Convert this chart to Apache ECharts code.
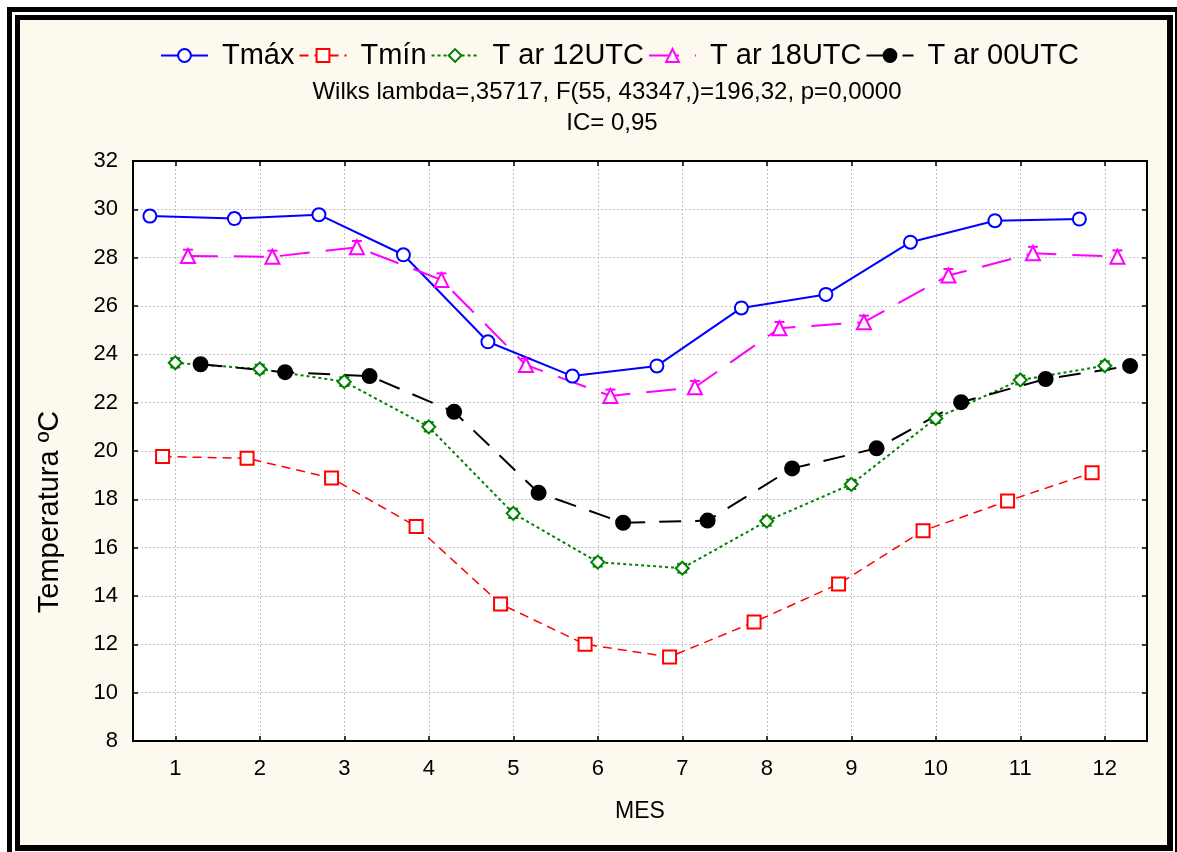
<!DOCTYPE html>
<html>
<head>
<meta charset="utf-8">
<script src="https://cdn.jsdelivr.net/npm/echarts@6/dist/echarts.min.js"></script>
<style>
  html, body { margin: 0; padding: 0; background: #ffffff; overflow: hidden; }
  #outer { position: absolute; left: 7px; top: 7px; width: 1170px; height: 860px; box-sizing: border-box;
           border-left: 5px solid #000; border-top: 5px solid #000; border-right: 2px solid #000; }
  #inner { position: absolute; left: 15px; top: 15px; width: 1158px; height: 836px; box-sizing: border-box;
           border-left: 5px solid #000; border-top: 5px solid #000; border-right: 6px solid #000; border-bottom: 6px solid #000;
           background: #FDF9EF; }
  #chart { position: absolute; left: 0; top: 0; width: 1177px; height: 852px; }
</style>
</head>
<body>
<div id="outer"></div>
<div id="inner"></div>
<div id="chart"></div>
<script>
// ---- data ----
const months = [1, 2, 3, 4, 5, 6, 7, 8, 9, 10, 11, 12];
const yTicks = [8, 10, 12, 14, 16, 18, 20, 22, 24, 26, 28, 30, 32];
const seriesNames = ['Tmáx', 'Tmín', 'T ar 12UTC', 'T ar 18UTC', 'T ar 00UTC'];
const tmax = [29.72, 29.62, 29.78, 28.12, 24.52, 23.10, 23.52, 25.92, 26.48, 28.64, 29.53, 29.60];
const tmin = [19.77, 19.70, 18.88, 16.88, 13.67, 12.00, 11.48, 12.92, 14.50, 16.70, 17.93, 19.10];
const t12 = [23.65, 23.39, 22.87, 21.00, 17.42, 15.40, 15.15, 17.10, 18.62, 21.35, 22.94, 23.53];
const t18 = [28.07, 28.04, 28.43, 27.08, 23.56, 22.28, 22.64, 25.08, 25.33, 27.26, 28.18, 28.04];
const t00 = [23.59, 23.26, 23.10, 21.62, 18.27, 17.03, 17.12, 19.28, 20.11, 22.02, 22.98, 23.52];
// half-widths of the 95% confidence intervals
const tmaxErr = [0.20, 0.21, 0.18, 0.20, 0.19, 0.19, 0.20, 0.21, 0.20, 0.19, 0.20, 0.20];
const tminErr = [0.15, 0.15, 0.16, 0.16, 0.16, 0.15, 0.15, 0.16, 0.16, 0.16, 0.16, 0.15];
const t12Err  = [0.19, 0.18, 0.18, 0.19, 0.19, 0.18, 0.18, 0.19, 0.19, 0.19, 0.18, 0.18];
const t18Err  = [0.26, 0.25, 0.26, 0.27, 0.27, 0.26, 0.26, 0.26, 0.27, 0.27, 0.27, 0.26];
const t00Err  = [0.16, 0.16, 0.16, 0.16, 0.17, 0.16, 0.16, 0.16, 0.16, 0.16, 0.16, 0.16];
const subtitle1 = 'Wilks lambda=,35717, F(55, 43347,)=196,32, p=0,0000';
const subtitle2 = 'IC= 0,95';
const yName = 'Temperatura ºC';
const xName = 'MES';

// ---- chart ----
const FONT = '"Liberation Sans", Arial, sans-serif';
const chart = echarts.init(document.getElementById('chart'), null, { renderer: 'canvas' });

const defs = [
  { vals: tmax, errs: tmaxErr, off: -0.30, color: '#0000FF', symbol: 'emptyCircle', size: 13, line: { width: 2, type: 'solid' } },
  { vals: tmin, errs: tminErr, off: -0.15, color: '#FF0000', symbol: 'emptyRect', size: 13, line: { width: 1.5, type: [9, 6] } },
  { vals: t12,  errs: t12Err,  off: 0.00,  color: '#008000', symbol: 'emptyDiamond', size: 13, line: { width: 2, type: [3, 3] } },
  { vals: t18,  errs: t18Err,  off: 0.15,  color: '#FF00FF', symbol: 'emptyTriangle', size: 14, line: { width: 2, type: [30, 16] } },
  { vals: t00,  errs: t00Err,  off: 0.30,  color: '#000000', symbol: 'circle', size: 14, line: { width: 2, type: [22, 14] } }
];

const series = [];
defs.forEach((d, k) => {
  series.push({
    type: 'custom', name: seriesNames[k] + ' IC', xAxisIndex: 2, yAxisIndex: 0, z: 1, silent: true,
    data: months.map((m, i) => [m + d.off, d.vals[i] - d.errs[i], d.vals[i] + d.errs[i]]),
    encode: { x: 0, y: [1, 2] },
    renderItem: function (params, api) {
      const x = api.value(0);
      const lo = api.coord([x, api.value(1)]);
      const hi = api.coord([x, api.value(2)]);
      const hw = 5;
      return { type: 'group', children: [
        { type: 'line', shape: { x1: lo[0], y1: lo[1], x2: hi[0], y2: hi[1] }, style: { stroke: d.color, lineWidth: 1.5 } },
        { type: 'line', shape: { x1: lo[0] - hw, y1: lo[1], x2: lo[0] + hw, y2: lo[1] }, style: { stroke: d.color, lineWidth: 2 } },
        { type: 'line', shape: { x1: hi[0] - hw, y1: hi[1], x2: hi[0] + hw, y2: hi[1] }, style: { stroke: d.color, lineWidth: 2 } }
      ] };
    }
  });
  series.push({
    type: 'line', name: seriesNames[k], xAxisIndex: 2, yAxisIndex: 0, z: 3,
    data: months.map((m, i) => [m + d.off, d.vals[i]]),
    symbol: d.symbol, symbolSize: d.size, showAllSymbol: true,
    lineStyle: { color: d.color, width: d.line.width, type: d.line.type },
    itemStyle: { color: d.color, borderColor: d.color, borderWidth: 2 },
    emphasis: { disabled: true }
  });
});

const catLabels = months.map(String);
const option = {
  animation: false,
  backgroundColor: 'transparent',
  textStyle: { fontFamily: FONT },
  legend: {
    data: seriesNames,
    left: 155, top: 36,
    itemWidth: 47, itemHeight: 16, itemGap: 4,
    textStyle: { fontFamily: FONT, fontSize: 29, color: '#000', padding: [0, 0, 0, 9] },
    selectedMode: false
  },
  grid: {
    left: 133, top: 161, width: 1014, height: 580,
    show: true, backgroundColor: '#ffffff', borderColor: '#000', borderWidth: 2
  },
  xAxis: [
    {
      type: 'category', data: catLabels, position: 'bottom', boundaryGap: true,
      name: xName, nameLocation: 'middle', nameGap: 59,
      nameTextStyle: { fontFamily: FONT, fontSize: 23, color: '#000' },
      axisLine: { show: true, lineStyle: { color: '#000', width: 2 } },
      axisTick: { show: true, inside: true, alignWithLabel: true, length: 5, lineStyle: { color: '#000', width: 1.5 } },
      axisLabel: { fontFamily: FONT, fontSize: 22, color: '#000', margin: 17 },
      splitLine: { show: true, alignWithLabel: true, lineStyle: { color: '#C4C4C4', width: 1, type: [2, 2] } }
    },
    {
      type: 'category', data: catLabels, position: 'top', boundaryGap: true,
      axisLine: { show: true, lineStyle: { color: '#000', width: 2 } },
      axisTick: { show: true, inside: true, alignWithLabel: true, length: 5, lineStyle: { color: '#000', width: 1.5 } },
      axisLabel: { show: false },
      splitLine: { show: false }
    },
    { type: 'value', min: 0.5, max: 12.5, show: false, splitLine: { show: false } }
  ],
  yAxis: [
    {
      type: 'value', min: yTicks[0], max: yTicks[yTicks.length - 1], interval: 2, position: 'left',
      axisLine: { show: true, lineStyle: { color: '#000', width: 2 } },
      axisTick: { show: true, inside: true, length: 5, lineStyle: { color: '#000', width: 1.5 } },
      axisLabel: { fontFamily: FONT, fontSize: 22, color: '#000', margin: 15 },
      splitLine: { show: true, lineStyle: { color: '#C4C4C4', width: 1, type: [2, 2] } }
    },
    {
      type: 'value', min: yTicks[0], max: yTicks[yTicks.length - 1], interval: 2, position: 'right',
      axisLine: { show: true, lineStyle: { color: '#000', width: 2 } },
      axisTick: { show: true, inside: true, length: 5, lineStyle: { color: '#000', width: 1.5 } },
      axisLabel: { show: false },
      splitLine: { show: false }
    }
  ],
  graphic: [
    { type: 'text', x: 607, y: 92, silent: true,
      style: { text: subtitle1, fontFamily: FONT, fontSize: 24, fill: '#000', align: 'center', verticalAlign: 'middle' } },
    { type: 'text', x: 612, y: 123, silent: true,
      style: { text: subtitle2, fontFamily: FONT, fontSize: 24, fill: '#000', align: 'center', verticalAlign: 'middle' } },
    { type: 'text', x: 50, y: 512, rotation: Math.PI / 2, silent: true,
      style: { text: yName, fontFamily: FONT, fontSize: 29, fill: '#000', align: 'center', verticalAlign: 'middle' } }
  ],
  series: series
};
chart.setOption(option);
</script>
</body>
</html>
